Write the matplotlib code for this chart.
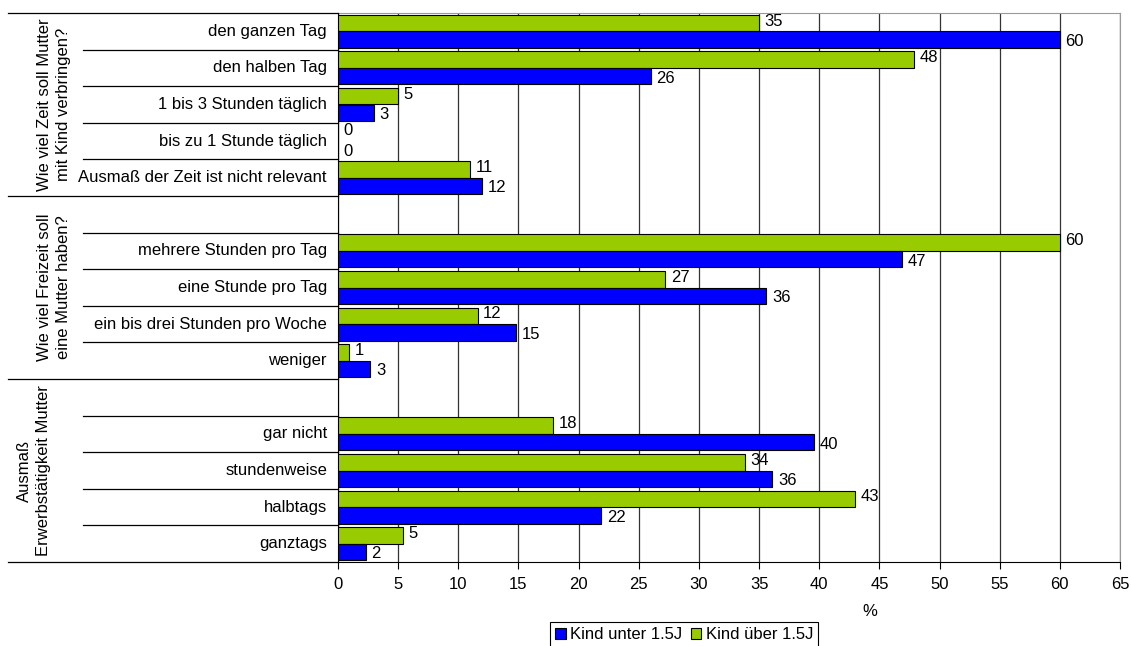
import numpy as np
import matplotlib.pyplot as plt
from matplotlib.transforms import blended_transform_factory

plt.rcParams['font.family'] = ['Liberation Sans', 'DejaVu Sans']

# rows from top, '' = empty spacer row
categories = ['den ganzen Tag', 'den halben Tag', '1 bis 3 Stunden täglich',
              'bis zu 1 Stunde täglich', 'Ausmaß der Zeit ist nicht relevant',
              '',
              'mehrere Stunden pro Tag', 'eine Stunde pro Tag',
              'ein bis drei Stunden pro Woche', 'weniger',
              '',
              'gar nicht', 'stundenweise', 'halbtags', 'ganztags']
unter = [60, 26, 3, 0, 12, None, 46.9, 35.6, 14.8, 2.7, None, 39.6, 36.1, 21.9, 2.3]
ueber = [35, 47.9, 5, 0, 11, None, 60, 27.2, 11.6, 0.9, None, 17.9, 33.8, 43.0, 5.4]
groups = ['Wie viel Zeit soll Mutter\nmit Kind verbringen?',
          'Wie viel Freizeit soll\neine Mutter haben?',
          'Ausmaß\nErwerbstätigkeit Mutter']
group_rows = [(0, 5), (5, 10), (10, 15)]
group_x = [54, 54, 34]

FS = 12
W, H = 1131, 646
fig = plt.figure(figsize=(W / 100, H / 100), dpi=100)
ax = fig.add_axes([338 / W, 1 - 562 / H, (1120 - 338) / W, (562 - 13) / H])

blue = '#0000FF'
green = '#99CC00'
n = len(categories)
for i in range(n):
    if unter[i] is None:
        continue
    ax.barh(i + 0.275, ueber[i], height=0.45, color=green, edgecolor='black', linewidth=0.8, zorder=3)
    ax.barh(i + 0.725, unter[i], height=0.45, color=blue, edgecolor='black', linewidth=0.8, zorder=3)
    ax.annotate(f'{round(ueber[i]):d}', (ueber[i], i + 0.22), xytext=(4, 0), textcoords='offset points',
                va='center', ha='left', fontsize=FS)
    ax.annotate(f'{round(unter[i]):d}', (unter[i], i + 0.78), xytext=(4, 0), textcoords='offset points',
                va='center', ha='left', fontsize=FS)

ax.set_xlim(0, 65)
ax.set_ylim(n, 0)
ax.set_xticks(np.arange(0, 66, 5))
ax.set_yticks([])
ax.tick_params(axis='x', length=5, labelsize=FS, pad=6)
ax.grid(axis='x', color='#333333', linewidth=0.9, zorder=0)
ax.spines['top'].set_color('#999999')
ax.spines['right'].set_color('#999999')
ax.set_axisbelow(True)

# category labels and separator lines
trans = blended_transform_factory(fig.transFigure, ax.transData)
for i, c in enumerate(categories):
    if c:
        fig.text(327 / W, i + 0.5, c, transform=trans, ha='right', va='center', fontsize=FS)

group_edges = [0, 5, 10, 15]
for b in range(n + 1):
    x0 = 8 if b in group_edges else 83
    fig.add_artist(plt.Line2D([x0 / W, 338 / W], [b, b], transform=trans, color='black', linewidth=0.9))

for g, (r0, r1), gx in zip(groups, group_rows, group_x):
    fig.text(gx / W, (r0 + r1) / 2, g, transform=trans, rotation=90, ha='center', va='center',
             fontsize=FS, multialignment='center', linespacing=1.3)

fig.text(870 / W, 1 - 611 / H, '%', ha='center', va='center', fontsize=FS)

h1 = plt.Rectangle((0, 0), 1, 1, facecolor=blue, edgecolor='black', linewidth=0.8)
h2 = plt.Rectangle((0, 0), 1, 1, facecolor=green, edgecolor='black', linewidth=0.8)
leg = fig.legend([h1, h2], ['Kind unter 1.5J', 'Kind über 1.5J'], loc='upper center',
                 bbox_to_anchor=(684 / W, 1 - 622 / H), borderaxespad=0, ncol=2, fontsize=FS,
                 handlelength=0.65, handleheight=0.65, handletextpad=0.25, columnspacing=0.5,
                 borderpad=0.3, fancybox=False, edgecolor='black', framealpha=1)
leg.get_frame().set_linewidth(0.8)

fig.savefig('out.png', dpi=100)
